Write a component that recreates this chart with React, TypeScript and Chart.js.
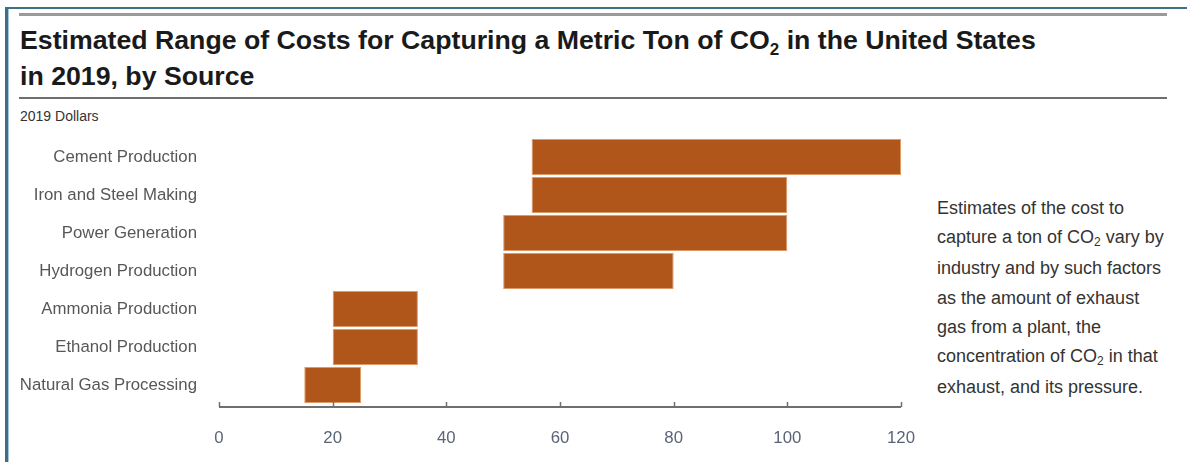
import React, { useEffect, useRef } from "react";
import { Chart, registerables } from "chart.js";

Chart.register(...registerables);

const categories = [
  "Cement Production",
  "Iron and Steel Making",
  "Power Generation",
  "Hydrogen Production",
  "Ammonia Production",
  "Ethanol Production",
  "Natural Gas Processing",
];
const lowCosts = [55, 55, 50, 50, 20, 20, 15];
const highCosts = [120, 100, 100, 80, 35, 35, 25];
const xTickValues = [0, 20, 40, 60, 80, 100, 120];

const FONT = "'Liberation Sans', Arial, sans-serif";

const axisPlugin = {
  id: "bottomAxisLine",
  afterDraw(chart: any) {
    const { ctx, chartArea, scales } = chart;
    const xs = scales.x;
    const y = chartArea.bottom + 3;
    const x0 = xs.getPixelForValue(xTickValues[0]);
    const x1 = xs.getPixelForValue(xTickValues[xTickValues.length - 1]);
    ctx.save();
    ctx.strokeStyle = "#6f6f6f";
    ctx.lineWidth = 2;
    ctx.beginPath();
    ctx.moveTo(x0, y);
    ctx.lineTo(x1, y);
    ctx.stroke();
    ctx.lineWidth = 1.5;
    xTickValues.forEach((v) => {
      const px = Math.round(xs.getPixelForValue(v)) + 0.5;
      ctx.beginPath();
      ctx.moveTo(px, y);
      ctx.lineTo(px, y - 5);
      ctx.stroke();
    });
    ctx.restore();
  },
};

function RangeChart() {
  const ref = useRef<HTMLCanvasElement | null>(null);
  useEffect(() => {
    if (!ref.current) return;
    const chart = new Chart(ref.current, {
      type: "bar",
      data: {
        labels: categories,
        datasets: [
          {
            data: categories.map((_, i) => [lowCosts[i], highCosts[i]]) as any,
            backgroundColor: "#B0561A",
            borderColor: "#E09A68",
            borderWidth: 1,
            borderSkipped: false,
            barPercentage: 0.95,
            categoryPercentage: 1,
          },
        ],
      },
      options: {
        indexAxis: "y",
        responsive: false,
        animation: false,
        devicePixelRatio: 1,
        layout: { autoPadding: false, padding: { left: 0, right: 24, top: 8, bottom: 9 } },
        plugins: {
          legend: { display: false },
          tooltip: { enabled: false },
          title: { display: false },
        },
        scales: {
          x: {
            type: "linear",
            min: 0,
            max: 120,
            afterBuildTicks: (scale: any) => {
              scale.ticks = xTickValues.map((v) => ({ value: v }));
            },
            afterFit: (scale: any) => {
              scale.height = 42;
              scale.paddingLeft = 0;
              scale.paddingRight = 0;
            },
            grid: { display: false, drawTicks: false },
            border: { display: false },
            ticks: {
              padding: 24,
              color: "#5a6476",
              font: { family: FONT, size: 16.8 },
            },
          },
          y: {
            type: "category",
            grid: { display: false, drawTicks: false },
            border: { display: false },
            afterFit: (scale: any) => {
              scale.width = 209;
              scale.paddingTop = 0;
              scale.paddingBottom = 0;
            },
            ticks: {
              padding: 22,
              color: "#575757",
              font: { family: FONT, size: 16.8 },
            },
          },
        },
      } as any,
      plugins: [axisPlugin],
    });
    return () => chart.destroy();
  }, []);
  return (
    <canvas
      ref={ref}
      width={915}
      height={325}
      style={{ position: "absolute", left: 10, top: 130, width: 915, height: 325 }}
    />
  );
}

const sub = (t: string, size: number, drop: number) => (
  <span style={{ fontSize: size, position: "relative", top: drop }}>{t}</span>
);

const noteLines: React.ReactNode[] = [
  "Estimates of the cost to",
  <>capture a ton of CO{sub("2", 12, 3)} vary by</>,
  "industry and by such factors",
  "as the amount of exhaust",
  "gas from a plant, the",
  <>concentration of CO{sub("2", 12, 3)} in that</>,
  "exhaust, and its pressure.",
];

export default function App() {
  return (
    <div
      style={{
        position: "absolute",
        left: 0,
        top: 0,
        width: 1187,
        height: 462,
        overflow: "hidden",
        background: "#ffffff",
        fontFamily: FONT,
      }}
    >
      {/* frame */}
      <div style={{ position: "absolute", left: 5, top: 7, width: 1182, height: 2, background: "#3d7184" }} />
      <div style={{ position: "absolute", left: 5, top: 7, width: 3, height: 455, background: "#3d6e88" }} />
      <div style={{ position: "absolute", left: 8, top: 9, width: 1, height: 453, background: "#a9c6d8" }} />
      {/* rules */}
      <div style={{ position: "absolute", left: 19, top: 13, width: 1148, height: 3, background: "#9a9a9a" }} />
      <div style={{ position: "absolute", left: 19, top: 97, width: 1148, height: 2, background: "#6e6e6e" }} />
      {/* title */}
      <div
        style={{
          position: "absolute",
          left: 20,
          top: 25,
          fontSize: 26.7,
          lineHeight: "30px",
          fontWeight: 700,
          color: "#1a1a1a",
          whiteSpace: "nowrap",
        }}
      >
        Estimated Range of Costs for Capturing a Metric Ton of CO{sub("2", 17, 6)} in the United States
      </div>
      <div
        style={{
          position: "absolute",
          left: 20,
          top: 61,
          fontSize: 26.7,
          lineHeight: "30px",
          fontWeight: 700,
          color: "#1a1a1a",
          whiteSpace: "nowrap",
        }}
      >
        in 2019, by Source
      </div>
      <div
        style={{
          position: "absolute",
          left: 20,
          top: 108,
          fontSize: 14,
          lineHeight: "16px",
          color: "#333333",
          whiteSpace: "nowrap",
        }}
      >
        2019 Dollars
      </div>
      <RangeChart />
      <div
        style={{
          position: "absolute",
          left: 937,
          top: 194,
          fontSize: 18,
          lineHeight: "29.2px",
          color: "#333333",
          whiteSpace: "nowrap",
        }}
      >
        {noteLines.map((l, i) => (
          <div key={i}>{l}</div>
        ))}
      </div>
    </div>
  );
}
